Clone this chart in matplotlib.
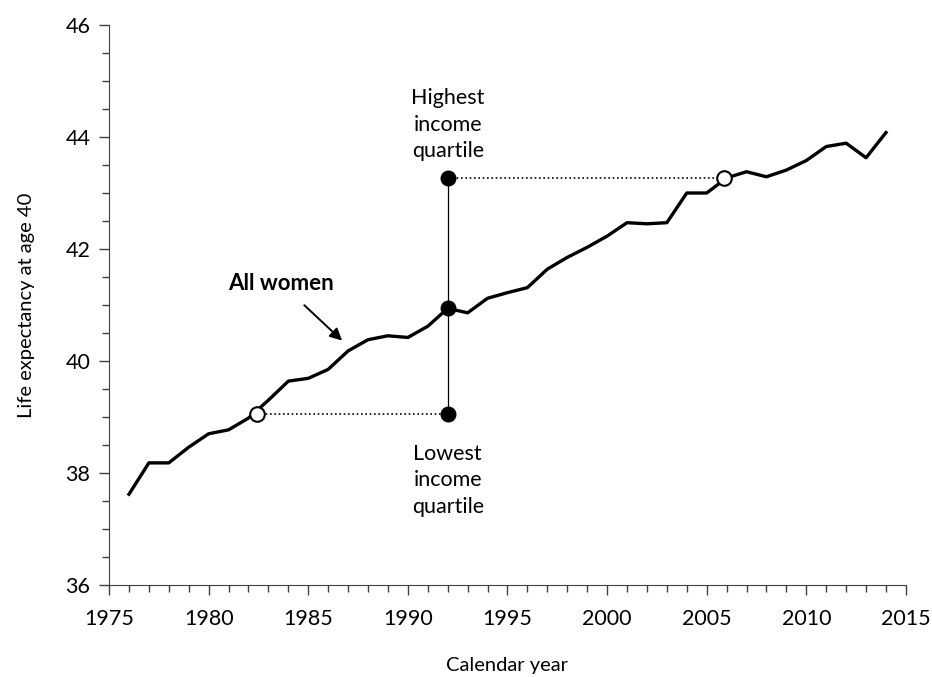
import matplotlib.pyplot as plt
from matplotlib.ticker import MultipleLocator

plt.rcParams['font.family'] = ['Lato', 'DejaVu Sans']

years = list(range(1976, 2015))
life_exp = [37.62, 38.18, 38.18, 38.46, 38.70, 38.77, 38.98, 39.30, 39.64, 39.69,
            39.85, 40.18, 40.38, 40.45, 40.42, 40.62, 40.94, 40.86, 41.12, 41.22,
            41.31, 41.64, 41.85, 42.03, 42.23, 42.47, 42.45, 42.47, 43.00, 43.00,
            43.27, 43.38, 43.29, 43.41, 43.58, 43.83, 43.89, 43.63, 44.08]

ref_year = 1992
all_women_1992 = 40.94
highest_q = 43.26
lowest_q = 39.06
open_years = [1982.45, 2005.87]
open_vals = [lowest_q, highest_q]

fig = plt.figure(figsize=(9.32, 6.77), dpi=100)
ax = fig.add_axes([0.117, 0.136, 0.855, 0.827])

ax.plot(years, life_exp, color='black', lw=2.4, zorder=3)

# range bar at 1992
ax.plot([ref_year, ref_year], [lowest_q, highest_q], color='black', lw=0.9, zorder=2)
ax.plot([open_years[0], ref_year], [lowest_q, lowest_q], color='black', lw=1.2,
        linestyle=(0, (1, 1.6)), zorder=2)
ax.plot([ref_year, open_years[1]], [highest_q, highest_q], color='black', lw=1.2,
        linestyle=(0, (1, 1.6)), zorder=2)
ax.scatter([ref_year] * 3, [lowest_q, all_women_1992, highest_q], s=110,
           color='black', zorder=4)
ax.scatter(open_years, open_vals, s=110, facecolor='white', edgecolor='black',
           linewidth=1.5, zorder=5)

ax.text(ref_year, 43.57, "Highest\nincome\nquartile", ha='center', va='bottom',
        fontsize=15.5, linespacing=1.4)
ax.text(ref_year, 38.52, "Lowest\nincome\nquartile", ha='center', va='top',
        fontsize=15.5, linespacing=1.4)
ax.text(1983.65, 41.375, "All women", ha='center', va='center', fontsize=16,
        fontweight='bold')
ax.annotate("", xy=(1986.8, 40.33), xytext=(1984.7, 41.03),
            arrowprops=dict(arrowstyle='-|>', color='black', lw=1.4,
                            mutation_scale=18))

ax.set_xlim(1975, 2015)
ax.set_ylim(36, 46)
ax.xaxis.set_major_locator(MultipleLocator(5))
ax.xaxis.set_minor_locator(MultipleLocator(1))
ax.yaxis.set_major_locator(MultipleLocator(2))
ax.yaxis.set_minor_locator(MultipleLocator(0.5))
ax.tick_params(which='major', length=7.5, width=1, labelsize=15.5)
ax.tick_params(which='minor', length=5, width=1)
ax.tick_params(axis='x', pad=10)
ax.tick_params(axis='y', pad=6)
for s in ['top', 'right']:
    ax.spines[s].set_visible(False)
ax.spines['left'].set_color('#404040')
ax.spines['bottom'].set_color('#404040')
ax.tick_params(which='both', color='#404040')

ax.set_xlabel("Calendar year", fontsize=14.5, labelpad=20)
ax.set_ylabel("Life expectancy at age 40", fontsize=14.5, labelpad=22)

fig.savefig("out.png", dpi=100)
